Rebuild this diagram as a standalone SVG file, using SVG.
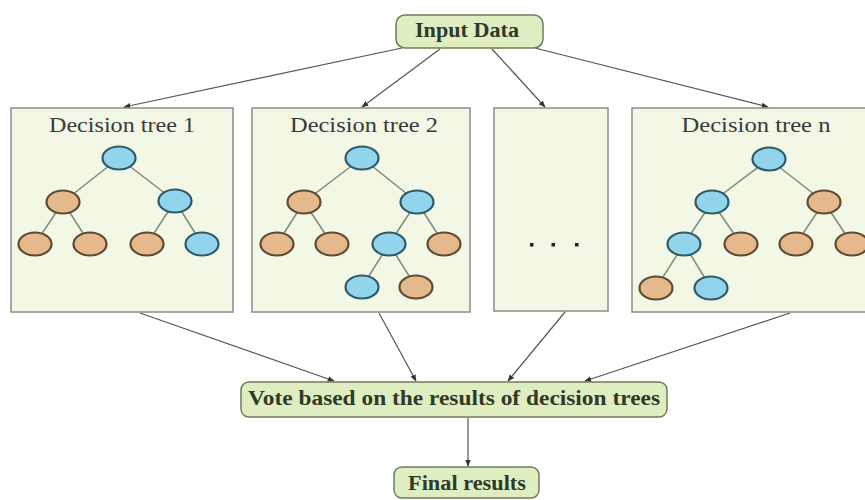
<svg xmlns="http://www.w3.org/2000/svg" width="865" height="500" viewBox="0 0 865 500">
<defs>
<marker id="ah" viewBox="0 0 10 10" refX="9" refY="5" markerWidth="7" markerHeight="7" orient="auto" markerUnits="userSpaceOnUse">
<path d="M0,1 L10,5 L0,9 z" fill="#333"/>
</marker>
<style>
.box{fill:#dfeec0;stroke:#6c7c5c;stroke-width:1.5}
.tbox{fill:#f2f7e6;stroke:#8a8f86;stroke-width:1.5}
.lbl{font-family:"Liberation Serif","Times New Roman",serif;font-size:20px;font-weight:bold;fill:#2f3a2a;text-anchor:middle}
.ttl{font-family:"Liberation Serif","Times New Roman",serif;font-size:21px;fill:#3a3a3a;text-anchor:middle}
.b{fill:#92d4ec;stroke:#2f5a68;stroke-width:2.2}
.o{fill:#e6b98c;stroke:#5e4a35;stroke-width:2.2}
.e{stroke:#7d8c78;stroke-width:1.5;fill:none}
.c{stroke:#555;stroke-width:1.2;fill:none;marker-end:url(#ah)}
</style>
</defs>
<rect width="865" height="500" fill="#ffffff"/>

<g id="connectors">
<line class="c" x1="402" y1="48" x2="124" y2="107"/>
<line class="c" x1="440" y1="49" x2="362" y2="107"/>
<line class="c" x1="492" y1="49" x2="545" y2="107"/>
<line class="c" x1="535" y1="48" x2="768" y2="107"/>
<line class="c" x1="140" y1="313" x2="334" y2="381"/>
<line class="c" x1="379" y1="313" x2="416" y2="381"/>
<line class="c" x1="565" y1="312" x2="508" y2="381"/>
<line class="c" x1="790" y1="313" x2="585" y2="381"/>
<line class="c" x1="468" y1="418" x2="468" y2="466"/>
</g>

<g id="input-data">
<rect class="box" x="396" y="15" width="147" height="33" rx="9"/>
<text class="lbl" x="467" y="37" textLength="104" lengthAdjust="spacingAndGlyphs">Input Data</text>
</g>

<g id="tree1">
<rect class="tbox" x="11" y="108" width="222" height="204"/>
<text class="ttl" x="122" y="132" textLength="146" lengthAdjust="spacingAndGlyphs">Decision tree 1</text>
<path class="e" d="M119,158 L63,202 M119,158 L175,201 M63,202 L35,244 M63,202 L90,244 M175,201 L147,244 M175,201 L202,244"/>
<ellipse class="b" cx="119" cy="158" rx="16.5" ry="11.5"/>
<ellipse class="o" cx="63" cy="202" rx="16.5" ry="11.5"/>
<ellipse class="b" cx="175" cy="201" rx="16.5" ry="11.5"/>
<ellipse class="o" cx="35" cy="244" rx="16.5" ry="11.5"/>
<ellipse class="o" cx="90" cy="244" rx="16.5" ry="11.5"/>
<ellipse class="o" cx="147" cy="244" rx="16.5" ry="11.5"/>
<ellipse class="b" cx="202" cy="244" rx="16.5" ry="11.5"/>
</g>

<g id="tree2">
<rect class="tbox" x="252" y="108" width="218" height="204"/>
<text class="ttl" x="364" y="132" textLength="148" lengthAdjust="spacingAndGlyphs">Decision tree 2</text>
<path class="e" d="M362,158 L304,202 M362,158 L417,202 M304,202 L277,244 M304,202 L332,244 M417,202 L389,244 M417,202 L444,244 M389,244 L362,287 M389,244 L416,287"/>
<ellipse class="b" cx="362" cy="158" rx="16.5" ry="11.5"/>
<ellipse class="o" cx="304" cy="202" rx="16.5" ry="11.5"/>
<ellipse class="b" cx="417" cy="202" rx="16.5" ry="11.5"/>
<ellipse class="o" cx="277" cy="244" rx="16.5" ry="11.5"/>
<ellipse class="o" cx="332" cy="244" rx="16.5" ry="11.5"/>
<ellipse class="b" cx="389" cy="244" rx="16.5" ry="11.5"/>
<ellipse class="o" cx="444" cy="244" rx="16.5" ry="11.5"/>
<ellipse class="b" cx="362" cy="287" rx="16.5" ry="11.5"/>
<ellipse class="o" cx="416" cy="287" rx="16.5" ry="11.5"/>
</g>

<g id="tree-dots">
<rect class="tbox" x="494" y="108" width="114" height="203"/>
<rect x="530" y="243" width="3.5" height="3.5" fill="#222"/>
<rect x="551.5" y="243" width="3.5" height="3.5" fill="#222"/>
<rect x="575" y="243" width="3.5" height="3.5" fill="#222"/>
</g>

<g id="treen">
<rect class="tbox" x="632" y="108" width="240" height="204"/>
<text class="ttl" x="756" y="132" textLength="149" lengthAdjust="spacingAndGlyphs">Decision tree n</text>
<path class="e" d="M769,159 L712,202 M769,159 L824,202 M712,202 L684,244 M712,202 L741,244 M824,202 L796,244 M824,202 L852,244 M684,244 L656,288 M684,244 L711,288"/>
<ellipse class="b" cx="769" cy="159" rx="16.5" ry="11.5"/>
<ellipse class="b" cx="712" cy="202" rx="16.5" ry="11.5"/>
<ellipse class="o" cx="824" cy="202" rx="16.5" ry="11.5"/>
<ellipse class="b" cx="684" cy="244" rx="16.5" ry="11.5"/>
<ellipse class="o" cx="741" cy="244" rx="16.5" ry="11.5"/>
<ellipse class="o" cx="796" cy="244" rx="16.5" ry="11.5"/>
<ellipse class="o" cx="852" cy="244" rx="16.5" ry="11.5"/>
<ellipse class="o" cx="656" cy="288" rx="16.5" ry="11.5"/>
<ellipse class="b" cx="711" cy="288" rx="16.5" ry="11.5"/>
</g>

<g id="vote">
<rect class="box" x="241" y="382" width="426" height="35" rx="8"/>
<text class="lbl" x="454" y="405" textLength="412" lengthAdjust="spacingAndGlyphs">Vote based on the results of decision trees</text>
</g>

<g id="final-results">
<rect class="box" x="394" y="467" width="145" height="31" rx="8"/>
<text class="lbl" x="467" y="490" textLength="118" lengthAdjust="spacingAndGlyphs">Final results</text>
</g>
</svg>
